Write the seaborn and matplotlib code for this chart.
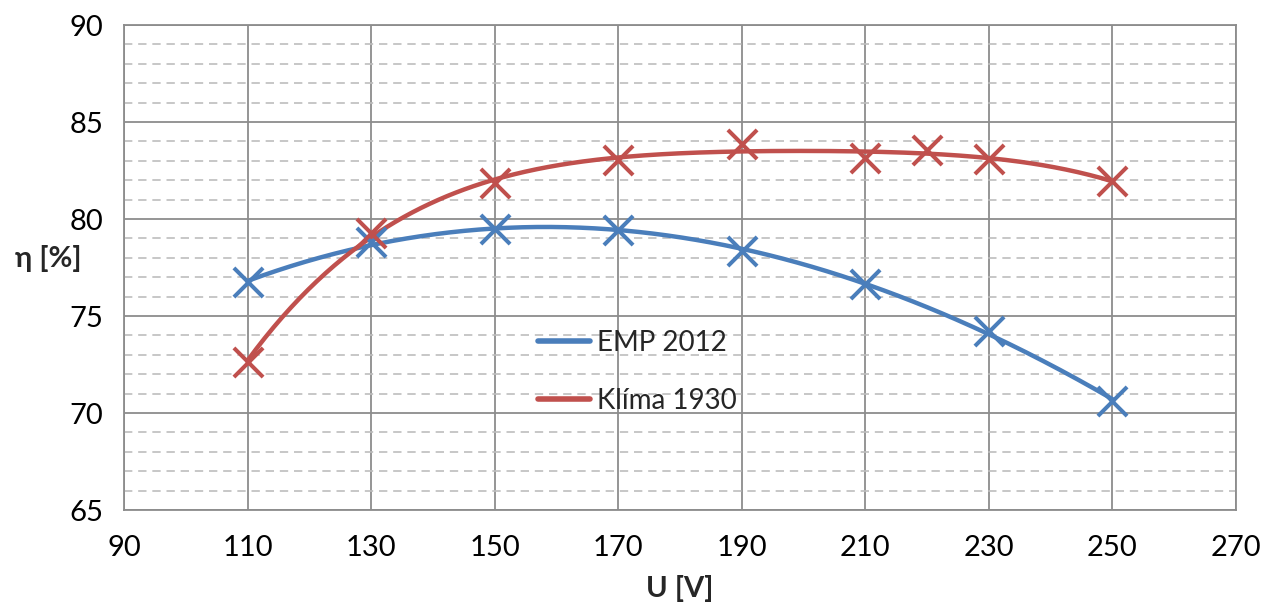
import numpy as np
import pandas as pd
import matplotlib
matplotlib.use("Agg")
import matplotlib.pyplot as plt
from matplotlib.lines import Line2D
from matplotlib.ticker import MultipleLocator
import seaborn as sns

# Data
emp_u = [110, 130, 150, 170, 190, 210, 230, 250]
emp_eta = [76.74, 78.80, 79.47, 79.43, 78.37, 76.63, 74.23, 70.64]
klima_u = [110, 130, 150, 170, 190, 210, 220, 230, 250]
klima_eta = [72.65, 79.26, 81.84, 83.04, 83.87, 83.13, 83.56, 83.08, 81.96]
series_names = ["EMP 2012", "Klíma 1930"]
x_ticks = [90, 110, 130, 150, 170, 190, 210, 230, 250, 270]
y_ticks = [65, 70, 75, 80, 85, 90]

BLUE = "#4A7EBB"
RED = "#C0504D"

sns.set_theme(style="white")
plt.rcParams["font.family"] = ["Lato", "DejaVu Sans"]

fig = plt.figure(figsize=(12.64, 6.06), dpi=100)
ax = fig.add_axes([0.0981, 0.1584, 0.8797, 0.8003])


def trend(u, eta, deg):
    coef = np.polyfit(u, eta, deg)
    xs = np.linspace(min(u), max(u), 300)
    return pd.DataFrame({"U": xs, "eta": np.polyval(coef, xs)})


emp_tr = trend(emp_u, emp_eta, 3)
kl_tr = trend(klima_u, klima_eta, 4)

sns.lineplot(data=emp_tr, x="U", y="eta", ax=ax, color=BLUE, linewidth=3.2, zorder=3)
sns.lineplot(data=kl_tr, x="U", y="eta", ax=ax, color=RED, linewidth=3.2, zorder=3)
sns.scatterplot(x=emp_u, y=emp_eta, ax=ax, marker="x", color=BLUE, s=440,
                linewidth=2.9, zorder=4)
sns.scatterplot(x=klima_u, y=klima_eta, ax=ax, marker="x", color=RED, s=440,
                linewidth=2.9, zorder=4)

ax.set_xlim(90, 270)
ax.set_ylim(65, 90)
ax.set_xticks(x_ticks)
ax.set_yticks(y_ticks)
ax.yaxis.set_minor_locator(MultipleLocator(1))

ax.grid(False)
ax.grid(which="major", axis="both", color="#8C8C8C", linewidth=1.3, linestyle="-", zorder=1)
ax.grid(which="minor", axis="y", color="#BDBDBD", linewidth=1.2, linestyle=(0, (5, 3.5)), zorder=1)
ax.set_axisbelow(True)

for sp in ax.spines.values():
    sp.set_color("#8C8C8C")
    sp.set_linewidth(1.3)

ax.tick_params(axis="both", which="major", direction="out", length=7, width=1.3,
               color="#8C8C8C", labelsize=21, labelcolor="black")
ax.tick_params(axis="y", which="minor", length=0)
ax.tick_params(axis="x", pad=11)
ax.tick_params(axis="y", pad=8)

ax.set_xlabel("U [V]", fontsize=21, fontweight="bold", labelpad=10)
ax.set_ylabel("η [%]", fontsize=21, fontweight="bold", rotation=0, labelpad=0)
ax.yaxis.set_label_coords(-0.068, 0.49)

handles = [Line2D([0], [0], color=BLUE, linewidth=4, solid_capstyle="round"),
           Line2D([0], [0], color=RED, linewidth=4, solid_capstyle="round")]
leg = ax.legend(handles, series_names, loc="center left",
                bbox_to_anchor=(0.362, 0.285), frameon=False, fontsize=20,
                handlelength=1.9, handletextpad=0.25, labelspacing=1.15,
                borderaxespad=0)

fig.savefig("out.png", dpi=100)
